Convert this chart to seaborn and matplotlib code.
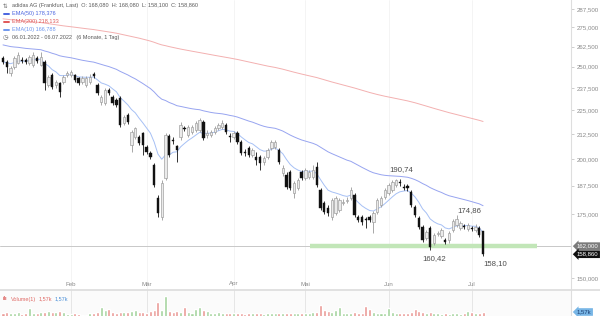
import numpy as np
import pandas as pd
import matplotlib
matplotlib.use("Agg")
import matplotlib.pyplot as plt
import matplotlib.transforms as mtrans
from matplotlib.lines import Line2D
from matplotlib.ticker import NullLocator, FixedLocator, FixedFormatter
import seaborn as sns

# ---------------- data ----------------
opens = [255.5, 253.0, 246.3, 249.9, 252.3, 254.2, 254.2, 252.3, 251.1, 255.5,
         251.1, 253.0, 239.2, 245.1, 239.2, 240.3, 240.9, 245.1, 245.1, 245.1,
         243.3, 240.9, 239.2, 240.9, 245.7, 239.2, 229.6, 229.0, 236.4, 232.4,
         230.7, 231.8, 218.2, 222.5, 206.9, 211.0, 211.0, 213.0, 205.9, 202.9,
         197.1, 182.1, 173.9, 191.0, 211.5, 209.4, 206.4, 211.0, 215.6, 212.0,
         213.6, 214.6, 214.6, 218.8, 212.0, 212.0, 213.6, 215.6, 216.2, 217.2,
         211.5, 211.0, 213.0, 208.4, 203.4, 205.4, 202.0, 201.0, 201.0, 198.6,
         201.0, 205.4, 205.9, 204.4, 193.4, 192.4, 193.8, 184.3, 186.5, 193.8,
         191.0, 191.5, 191.5, 196.2, 185.6, 179.9, 177.7, 173.9, 175.5, 176.8,
         179.9, 180.8, 182.1, 183.4, 173.9, 173.9, 173.0, 173.9, 171.8, 176.0,
         179.0, 182.5, 184.3, 185.6, 187.8, 189.2, 186.9, 187.4, 184.7, 178.1,
         173.4, 169.7, 165.2, 169.3, 163.3, 166.8, 166.0, 164.5, 164.5, 168.5,
         170.5, 169.3, 170.1, 168.9, 169.3, 168.5, 169.3, 168.08]
highs = [256.7, 254.2, 250.5, 256.7, 259.2, 256.1, 255.5, 257.3, 259.2, 256.7,
         259.2, 254.2, 245.1, 246.3, 242.1, 240.9, 245.1, 247.5, 248.1, 245.7,
         243.9, 244.5, 244.5, 245.7, 246.9, 240.3, 233.5, 237.5, 237.5, 233.5,
         231.8, 232.9, 222.5, 223.6, 214.6, 216.2, 212.0, 213.6, 206.9, 203.9,
         198.1, 183.4, 190.1, 213.0, 212.5, 211.0, 206.9, 218.8, 216.7, 217.2,
         217.2, 219.3, 220.9, 219.8, 214.6, 214.6, 216.7, 218.2, 219.8, 218.2,
         213.0, 214.1, 214.1, 209.4, 204.9, 206.4, 205.4, 203.4, 202.0, 201.5,
         205.4, 209.4, 209.4, 205.4, 197.1, 193.8, 194.8, 189.6, 191.0, 194.8,
         195.7, 194.8, 197.1, 198.6, 186.5, 180.8, 179.0, 182.1, 183.0, 182.1,
         181.6, 182.5, 186.9, 184.3, 174.7, 174.7, 173.9, 174.7, 176.4, 182.1,
         183.0, 186.5, 188.7, 190.1, 190.74, 190.6, 188.3, 188.3, 185.6, 179.0,
         174.3, 170.5, 168.5, 170.1, 167.2, 168.1, 169.3, 165.2, 168.1, 173.0,
         174.86, 172.2, 170.9, 171.3, 170.1, 170.9, 170.1, 168.08]
lows = [251.7, 246.3, 244.5, 248.7, 251.7, 252.3, 251.7, 251.1, 249.9, 252.3,
        250.5, 236.4, 238.0, 236.9, 237.5, 232.4, 239.8, 243.9, 243.9, 240.9,
        239.2, 239.8, 238.0, 239.8, 243.3, 233.5, 227.9, 227.9, 233.5, 227.9,
        226.8, 216.2, 217.2, 217.7, 203.4, 209.9, 206.9, 202.0, 202.5, 200.0,
        186.9, 173.9, 172.6, 190.1, 201.0, 207.4, 198.6, 209.4, 214.1, 211.0,
        212.5, 213.6, 213.6, 209.4, 210.4, 211.0, 212.5, 214.6, 215.1, 212.5,
        208.4, 209.9, 207.4, 202.0, 201.5, 201.0, 201.0, 197.1, 194.8, 197.1,
        200.0, 204.4, 204.9, 197.6, 192.0, 186.0, 185.6, 182.1, 185.6, 190.1,
        190.1, 190.6, 190.6, 186.9, 176.8, 175.1, 174.3, 172.6, 174.7, 176.0,
        179.0, 179.9, 181.2, 173.9, 171.8, 170.5, 169.3, 171.8, 167.2, 175.1,
        178.1, 181.6, 183.4, 184.7, 186.9, 187.4, 185.6, 185.2, 178.1, 173.9,
        168.9, 163.7, 164.5, 160.42, 162.5, 166.0, 165.2, 162.9, 163.3, 167.7,
        169.7, 168.5, 168.9, 168.1, 168.1, 167.7, 165.6, 158.10]
closes = [253.0, 249.9, 249.3, 255.5, 257.3, 253.6, 253.0, 256.1, 257.3, 253.6,
          256.1, 240.3, 243.9, 238.0, 240.9, 235.2, 243.9, 246.3, 246.9, 242.1,
          240.3, 243.3, 243.3, 243.9, 244.5, 234.6, 232.4, 236.4, 234.6, 229.0,
          227.9, 217.2, 221.4, 218.8, 213.6, 215.6, 207.9, 206.9, 203.4, 201.0,
          187.8, 175.5, 188.7, 212.0, 202.0, 208.9, 204.4, 217.2, 215.1, 216.2,
          216.2, 218.2, 219.8, 210.4, 213.0, 213.6, 215.6, 217.2, 218.2, 213.6,
          211.0, 213.0, 208.4, 202.9, 202.9, 202.0, 204.4, 199.5, 198.1, 200.5,
          204.4, 208.4, 208.4, 198.6, 195.7, 186.9, 186.5, 188.7, 190.1, 191.0,
          194.8, 193.8, 194.8, 187.8, 177.7, 176.0, 175.5, 181.2, 182.1, 181.2,
          180.3, 181.2, 185.6, 174.7, 172.6, 171.8, 172.6, 172.6, 175.5, 181.2,
          182.1, 185.6, 187.8, 189.2, 190.1, 188.7, 186.6, 186.5, 179.0, 174.7,
          169.7, 164.5, 167.7, 161.7, 166.4, 167.2, 168.5, 163.7, 167.2, 172.2,
          173.0, 171.3, 169.7, 170.5, 168.9, 169.7, 166.4, 158.86]
volumes_k = [1.4, 1.5, 1.3, 1.4, 1.5, 1.2, 1.3, 2.3, 1.4, 1.3,
             1.5, 1.6, 1.7, 1.6, 1.5, 1.7, 1.6, 1.2, 1.2, 1.3,
             1.1, 1.0, 1.0, 1.3, 1.4, 1.5, 2.5, 1.9, 2.1, 1.5,
             1.4, 1.6, 1.5, 1.5, 1.8, 1.9, 1.5, 1.6, 1.4, 1.8,
             1.9, 3.5, 2.0, 4.6, 1.7, 1.6, 1.7, 1.5, 2.6, 1.5,
             1.4, 2.2, 2.5, 1.9, 1.7, 1.4, 1.4, 1.6, 1.4, 1.3,
             1.3, 1.4, 1.3, 1.3, 1.2, 1.3, 1.4, 1.3, 1.3, 1.2,
             1.3, 1.3, 1.4, 1.3, 1.3, 1.4, 1.3, 1.4, 1.3, 1.4,
             1.3, 1.4, 1.5, 1.6, 2.9, 2.0, 1.7, 1.5, 2.0, 2.6,
             1.4, 1.3, 1.4, 1.5, 1.4, 1.3, 2.8, 2.1, 1.5, 1.3,
             1.4, 1.4, 2.3, 1.5, 1.4, 1.4, 1.3, 1.4, 1.5, 2.1,
             1.7, 1.5, 1.3, 1.6, 1.3, 1.3, 1.2, 1.3, 1.2, 1.3,
             1.3, 1.2, 1.3, 1.8, 1.6, 1.3, 1.3, 1.57]
ema_seeds = {10: 253.0, 50: 264.0, 200: 281.0}
month_labels = ["Feb", "Mär", "Apr", "Mai", "Jun", "Jul"]
price_ticks = [150, 175, 187.5, 200, 212.5, 225, 237.5, 250, 262.5, 275, 287.5]
support_level = 162.0
legend_values = {"O": "168,080", "H": "168,080", "L": "158,100", "C": "158,860",
                 "EMA50": "178,376", "EMA200": "218,133", "EMA10": "166,788"}

# ---------------- derived ----------------
dates = pd.bdate_range("2022-01-06", "2022-07-06")
dates = dates[~dates.isin(pd.to_datetime(["2022-04-15", "2022-04-18"]))]
n = len(closes)
dates = dates[:n]
idx = np.arange(n)
o = np.array(opens); h = np.array(highs); l = np.array(lows); c = np.array(closes)
up = c >= o
month_pos = [int(np.argmax(dates.month == m)) for m in range(2, 8)]


def ema(vals, span, seed):
    a = 2.0 / (span + 1)
    e = seed
    out = []
    for v in vals:
        e = a * v + (1 - a) * e
        out.append(e)
    return np.array(out)


ema10 = ema(c, 10, ema_seeds[10])
ema50 = ema(c, 50, ema_seeds[50])
ema200 = ema(c, 200, ema_seeds[200])

# ---------------- figure ----------------
sns.set_theme(style="white")
plt.rcParams["font.family"] = ["Liberation Sans", "DejaVu Sans"]

W, H = 600, 316
AX_R = 571
PANEL = 290
STEP = 3.78
fig = plt.figure(figsize=(6, 3.16), dpi=100)
fig.patch.set_facecolor("white")
ax = fig.add_axes([0, (H - PANEL) / H, AX_R / W, PANEL / H])
axv = fig.add_axes([0, 0, AX_R / W, (H - PANEL) / H], sharex=ax)
ax.set_facecolor("white")
axv.set_facecolor("#fbfbfb")

ax.set_xlim(-3 / STEP, (AX_R - 3) / STEP)
ax.set_yscale("log")
ax.set_ylim(145.7, 293.8)

for m in month_pos:
    ax.axvline(m, color="#f3f3f3", lw=0.6, zorder=0)
    axv.axvline(m, color="#e2e2e2", lw=0.6, zorder=0)

# support lines
ax.axhline(support_level, color="#c8c8c8", lw=0.7, zorder=1)
ax.hlines(support_level, (310 - 3) / STEP, (537 - 3) / STEP, color="#c2e6b8", lw=3.2, zorder=1.5)

# EMA lines
sns.lineplot(x=idx, y=ema200, ax=ax, color="#f3b0b0", lw=0.7, zorder=2)
sns.lineplot(x=idx, y=ema50, ax=ax, color="#97a4f0", lw=0.7, zorder=2)
sns.lineplot(x=idx, y=ema10, ax=ax, color="#a6c0f5", lw=0.7, zorder=2)

# candles
body_b = np.minimum(o, c)
body_h = np.maximum(np.abs(c - o), 0.3)
ax.vlines(idx[up], l[up], h[up], color="#9a9a9a", lw=0.6, zorder=3)
ax.vlines(idx[~up], l[~up], h[~up], color="#111111", lw=0.6, zorder=3)
ax.bar(idx[up], body_h[up], bottom=body_b[up], width=0.62, color="#ebebeb",
       edgecolor="#999999", linewidth=0.45, zorder=4)
ax.bar(idx[~up], body_h[~up], bottom=body_b[~up], width=0.62, color="#111111",
       edgecolor="#111111", linewidth=0.3, zorder=4)

# annotations of extremes
ann_col = "#4d4d4d"
i_hi1 = highs.index(190.74)
i_hi2 = highs.index(174.86)
i_lo1 = lows.index(160.42)
i_lo2 = lows.index(158.10)
for txt, xi, yv, off in [("190,74", i_hi1, 190.74, (3.6, 6.3)),
                         ("174,86", i_hi2, 174.86, (8.9, 2.6)),
                         ("160,42", i_lo1, 160.42, (3.2, -5.8)),
                         ("158,10", i_lo2, 158.10, (8.6, -5.6))]:
    ax.annotate(txt, xy=(xi, yv), xytext=off, textcoords="offset points",
                ha="center", va="center", fontsize=5.6, color=ann_col, zorder=6)

# right axis ticks
ax.yaxis.tick_right()
ax.yaxis.set_major_locator(FixedLocator(price_ticks))
ax.yaxis.set_major_formatter(FixedFormatter([f"{v:,.3f}".replace(".", ",") for v in price_ticks]))
ax.yaxis.set_minor_locator(NullLocator())
ax.tick_params(axis="y", which="major", right=True, left=False, length=2.5, width=0.5,
               color="#bbbbbb", labelsize=4.4, labelcolor="#8a8a8a", pad=1.5)
ax.tick_params(axis="x", bottom=False, labelbottom=False)
ax.set_xticks([])
for a in (ax, axv):
    for s in ("top", "left", "bottom"):
        a.spines[s].set_visible(False)
    a.spines["right"].set_color("#dedede")
    a.spines["right"].set_linewidth(0.8)
ax.set_xlabel(""); ax.set_ylabel("")

# month labels
blend = mtrans.blended_transform_factory(ax.transData, ax.transAxes)
for m, lab in zip(month_pos, month_labels):
    ax.text(m, (PANEL - 284) / PANEL, lab, transform=blend, ha="center", va="center",
            fontsize=4.4, color="#8a8a8a")

# price tags on right axis
blend_y = mtrans.blended_transform_factory(ax.transAxes, ax.transData)
ax.text((577) / AX_R, support_level, "162,000", transform=blend_y, ha="left", va="center",
        fontsize=4.3, color="white", zorder=7, clip_on=False,
        bbox=dict(boxstyle="larrow,pad=0.22", fc="#7b7b7b", ec="none"))
ax.text((577) / AX_R, closes[-1], legend_values["C"], transform=blend_y, ha="left", va="center",
        fontsize=4.3, color="white", zorder=7, clip_on=False,
        bbox=dict(boxstyle="larrow,pad=0.22", fc="#111111", ec="none"))

# volume panel
vcols = np.where(up, "#a5d49e", "#eb9b97")
axv.bar(idx, volumes_k, width=0.8, color=vcols, zorder=2)
axv.set_ylim(0.8, 5.8)
axv.set_yticks([])
axv.tick_params(axis="both", left=False, right=False, bottom=False, labelbottom=False)
axv.set_xlabel(""); axv.set_ylabel("")
blend_vy = mtrans.blended_transform_factory(axv.transAxes, axv.transData)
axv.text(577 / AX_R, volumes_k[-1], "1,57k", transform=blend_vy, ha="left", va="center",
         fontsize=4.3, color="#1d3f73", zorder=7, clip_on=False,
         bbox=dict(boxstyle="larrow,pad=0.22", fc="#78b6e6", ec="none"))

fig.add_artist(Line2D([0, 1], [(H - PANEL) / H] * 2, color="#dcdcdc", lw=1.2,
                      transform=fig.transFigure))


def fx(px):
    return px / W


def fy(py):
    return 1 - py / H


# legend block (top-left)
fs = 4.0
fig.text(fx(3), fy(6), "⇅", fontsize=fs, color="#666666", va="center", ha="left")
fig.text(fx(12), fy(6),
         f"adidas AG (Frankfurt, Last)  O: {legend_values['O']}  H: {legend_values['H']}  "
         f"L: {legend_values['L']}  C: {legend_values['C']}",
         fontsize=fs, color="#5a5a5a", va="center", ha="left")
rows = [(14, "#4a64e0", f"EMA(50) {legend_values['EMA50']}"),
        (22, "#e05757", f"EMA(200) {legend_values['EMA200']}"),
        (29.5, "#6f98ee", f"EMA(10) {legend_values['EMA10']}")]
for py, col, txt in rows:
    fig.add_artist(Line2D([fx(4), fx(8.5)], [fy(py)] * 2, color=col, lw=1.4,
                          transform=fig.transFigure))
    fig.text(fx(12), fy(py), txt, fontsize=fs, color=col, va="center", ha="left")
fig.text(fx(3), fy(37.5), "◷", fontsize=fs + 0.6, color="#666666", va="center", ha="left")
fig.text(fx(12), fy(37.5), "06.01.2022 - 06.07.2022   (6 Monate, 1 Tag)",
         fontsize=fs, color="#5a5a5a", va="center", ha="left")

# volume label
fig.text(fx(3), fy(299), "ılı", fontsize=fs, color="#d9534f", va="center", ha="left",
         fontweight="bold")
fig.text(fx(11), fy(299), "Volume(1)", fontsize=fs, color="#e06a66", va="center", ha="left")
fig.text(fx(39), fy(299), "1,57k", fontsize=fs, color="#e06a66", va="center", ha="left")
fig.text(fx(55), fy(299), "1,57k", fontsize=fs, color="#4a8fd8", va="center", ha="left")

fig.savefig("out.png", dpi=100)
